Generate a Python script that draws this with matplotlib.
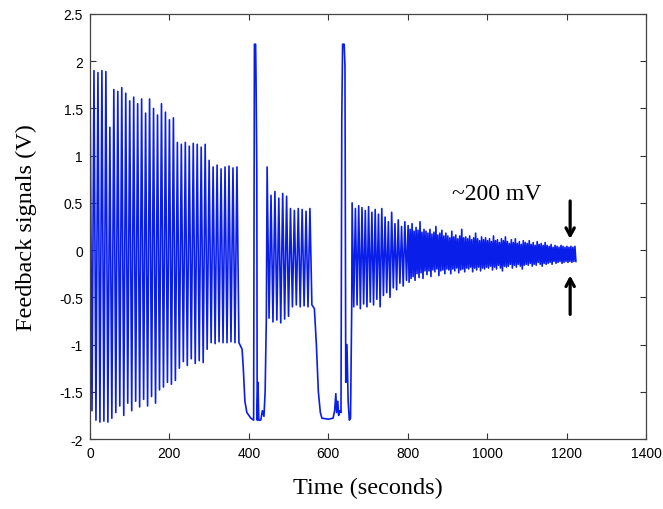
import numpy as np
import matplotlib
matplotlib.use("Agg")
import matplotlib.pyplot as plt

# ---------------- data ----------------
# Segment A: oscillation from t=0, period ~10 s
seg_a_start = 0.0
seg_a_period = 10.0
seg_a_upper = [1.86, 1.90, 1.88, 1.90, 1.89, 1.30, 1.70, 1.68, 1.72, 1.66,
               1.58, 1.62, 1.55, 1.60, 1.45, 1.60, 1.50, 1.43, 1.55, 1.46,
               1.38, 1.40, 1.14, 1.12, 1.14, 1.10, 1.13, 1.12, 1.09, 1.12,
               0.95, 0.88, 0.90, 0.86, 0.88, 0.89, 0.87, 0.88]
seg_a_lower = [-1.70, -1.80, -1.82, -1.81, -1.82, -1.78, -1.72, -1.65, -1.75, -1.62,
               -1.70, -1.60, -1.66, -1.58, -1.65, -1.55, -1.62, -1.48, -1.45, -1.40,
               -1.42, -1.38, -1.25, -1.18, -1.22, -1.15, -1.20, -1.17, -1.19, -1.05,
               -0.98, -0.99, -0.97, -0.98, -0.98, -0.97, -0.98, -0.98]

# First saturation + spike
trans1_t = [383, 386, 390, 395, 405, 412, 414, 417, 418, 420, 421, 423, 425,
            430, 434, 438, 441, 444]
trans1_v = [-1.05, -1.25, -1.60, -1.72, -1.78, -1.80, 2.18, 2.18, 1.85, 0.85,
            -1.80, -1.40, -1.80, -1.80, -1.70, -1.76, -1.50, -0.72]

# Segment B: oscillation after first spike
seg_b_start = 446.0
seg_b_period = 9.8
seg_b_upper = [0.88, 0.58, 0.62, 0.55, 0.60, 0.57, 0.44, 0.42, 0.44, 0.43, 0.41, 0.44]
seg_b_lower = [-0.72, -0.76, -0.74, -0.77, -0.73, -0.70, -0.60, -0.58, -0.60, -0.59,
               -0.60, -0.58]

# Second saturation + spike
trans2_t = [565, 570, 575, 580, 584, 600, 612, 616, 619, 621, 624, 626, 629, 632,
            634, 636, 640, 642, 644, 647, 650, 653, 656, 659]
trans2_v = [-0.62, -1.00, -1.50, -1.72, -1.78, -1.79, -1.78, -1.70, -1.52, -1.72,
            -1.60, -1.75, -1.70, -1.72, 1.40, 2.18, 2.18, 1.95, -1.40, -1.00,
            -1.60, -1.80, -1.78, -0.60]

# Segment C: oscillation after second spike, period ~8.3 s
seg_c_start = 660.0
seg_c_period = 8.3
seg_c_upper = [0.50, 0.44, 0.47, 0.45, 0.42, 0.46, 0.40, 0.43, 0.38, 0.44,
               0.35, 0.30, 0.40, 0.28, 0.32, 0.25, 0.30]
seg_c_lower = [-0.60, -0.58, -0.62, -0.57, -0.60, -0.55, -0.58, -0.52, -0.60, -0.48,
               -0.45, -0.50, -0.40, -0.42, -0.35, -0.38, -0.32]

# Segment D: dense decaying band, period ~5 s
seg_d_start = 801.0
seg_d_period = 5.0
seg_d_upper = [0.26, 0.22, 0.28, 0.20, 0.24, 0.21, 0.30, 0.19, 0.22, 0.20,
               0.18, 0.22, 0.17, 0.19, 0.25, 0.16, 0.18, 0.21, 0.15, 0.18,
               0.15, 0.13, 0.20, 0.14, 0.16, 0.12, 0.15, 0.22, 0.13, 0.14,
               0.12, 0.15, 0.11, 0.13, 0.18, 0.12, 0.10, 0.14, 0.11, 0.13,
               0.10, 0.12, 0.09, 0.15, 0.10, 0.11, 0.08, 0.12, 0.10, 0.14,
               0.09, 0.07, 0.11, 0.08, 0.12, 0.07, 0.09, 0.06, 0.10, 0.08,
               0.07, 0.10, 0.06, 0.08, 0.05, 0.09, 0.06, 0.07, 0.05, 0.08,
               0.05, 0.04, 0.06, 0.03, 0.05, 0.04, 0.03, 0.05, 0.04, 0.03,
               0.04, 0.03, 0.04, 0.03, 0.04]
seg_d_lower = [-0.34, -0.30, -0.28, -0.32, -0.25, -0.29, -0.24, -0.30, -0.22, -0.26,
               -0.22, -0.28, -0.21, -0.23, -0.20, -0.27, -0.22, -0.21, -0.25, -0.20,
               -0.21, -0.25, -0.20, -0.22, -0.19, -0.24, -0.21, -0.20, -0.23, -0.19,
               -0.20, -0.18, -0.23, -0.19, -0.21, -0.18, -0.22, -0.19, -0.20, -0.18,
               -0.19, -0.17, -0.21, -0.18, -0.20, -0.16, -0.19, -0.22, -0.17, -0.18,
               -0.17, -0.15, -0.19, -0.16, -0.18, -0.15, -0.17, -0.20, -0.16, -0.15,
               -0.16, -0.14, -0.17, -0.15, -0.16, -0.13, -0.15, -0.17, -0.14, -0.15,
               -0.14, -0.13, -0.15, -0.12, -0.14, -0.13, -0.12, -0.14, -0.13, -0.12,
               -0.13, -0.12, -0.13, -0.12, -0.12]

x_ticks = [0, 200, 400, 600, 800, 1000, 1200, 1400]
y_ticks = [-2, -1.5, -1, -0.5, 0, 0.5, 1, 1.5, 2, 2.5]
y_tick_labels = ["-2", "-1.5", "-1", "-0.5", "0", "0.5", "1", "1.5", "2", "2.5"]


def zigzag(start, period, upper, lower):
    t, v = [], []
    for i, (u, l) in enumerate(zip(upper, lower)):
        t += [start + i * period, start + i * period + period / 2]
        v += [u, l]
    return t, v


parts = [zigzag(seg_a_start, seg_a_period, seg_a_upper, seg_a_lower),
         (trans1_t, trans1_v),
         zigzag(seg_b_start, seg_b_period, seg_b_upper, seg_b_lower),
         (trans2_t, trans2_v),
         zigzag(seg_c_start, seg_c_period, seg_c_upper, seg_c_lower),
         zigzag(seg_d_start, seg_d_period, seg_d_upper, seg_d_lower)]
t_all = np.concatenate([np.asarray(p[0], float) for p in parts])
v_all = np.concatenate([np.asarray(p[1], float) for p in parts])

# ---------------- figure ----------------
fig = plt.figure(figsize=(6.63, 5.10), dpi=100)
ax = fig.add_axes([90 / 663, 1 - 440 / 510, (646 - 90) / 663, (440 - 15) / 510])

ax.plot(t_all, v_all, color="#0a1eea", lw=1.2)

ax.set_xlim(0, 1400)
ax.set_ylim(-2, 2.5)
ax.set_xticks(x_ticks)
ax.set_yticks(y_ticks)
ax.set_yticklabels(y_tick_labels)
ax.tick_params(direction="in", top=True, right=True, length=4, width=0.8,
               color="#333333", labelsize=10, pad=5)
for lab in ax.get_xticklabels() + ax.get_yticklabels():
    lab.set_family("Liberation Sans")
for s in ax.spines.values():
    s.set_color("#444444")
    s.set_linewidth(0.9)

serif = "Liberation Serif"
ax.set_xlabel("Time (seconds)", fontsize=17.5, family=serif, labelpad=12)
ax.set_ylabel("Feedback signals (V)", fontsize=17.5, family=serif, labelpad=16)

ax.text(912, 0.54, "~200 mV", fontsize=17, family=serif, ha="left", va="baseline")
ax.annotate("", xy=(1209, 0.09), xytext=(1209, 0.55),
            arrowprops=dict(arrowstyle="->,head_length=0.55,head_width=0.3",
                            lw=2.3, color="black"))
ax.annotate("", xy=(1209, -0.24), xytext=(1209, -0.71),
            arrowprops=dict(arrowstyle="->,head_length=0.55,head_width=0.3",
                            lw=2.3, color="black"))

fig.savefig("out.png", dpi=100)
